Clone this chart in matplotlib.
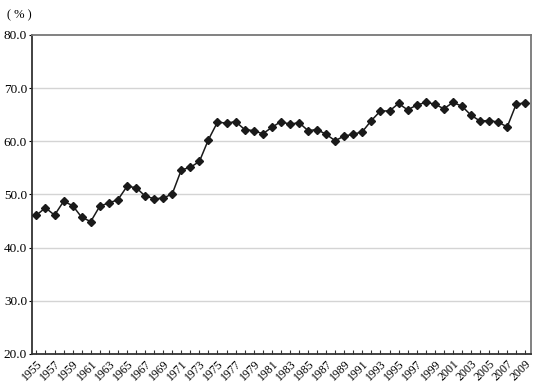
import numpy as np
import matplotlib
matplotlib.use("Agg")
import matplotlib.pyplot as plt

years = list(range(1955, 2010))
rate = [46.1, 47.5, 46.1, 48.7, 47.9, 45.7, 44.9, 47.8, 48.4, 49.0,
        51.5, 51.3, 49.7, 49.2, 49.3, 50.1, 54.6, 55.1, 56.2, 60.3,
        63.6, 63.4, 63.7, 62.2, 62.0, 61.4, 62.6, 63.7, 63.2, 63.5,
        62.0, 62.2, 61.3, 60.1, 61.0, 61.3, 61.8, 63.9, 65.7, 65.7,
        67.1, 65.9, 66.8, 67.3, 67.0, 66.1, 67.3, 66.6, 64.9, 63.8,
        63.9, 63.6, 62.7, 67.0, 67.2]
label_years = list(range(1955, 2010, 2))
y_ticks = [20, 30, 40, 50, 60, 70, 80]

plt.rcParams['font.family'] = ['Liberation Serif', 'DejaVu Serif']

fig = plt.figure(figsize=(5.5, 3.92), dpi=100)
ax = fig.add_axes([0.058, 0.097, 0.907, 0.814])

for v in y_ticks[1:-1]:
    ax.axhline(v, color='#d4d4d4', lw=1.0, zorder=1)

ax.plot(years, rate, color='#1a1a1a', lw=1.1, marker='D', markersize=3.6,
        zorder=3)

ax.set_xlim(1954.5, 2009.6)
ax.set_ylim(20, 80)
ax.set_yticks(y_ticks)
ax.set_yticklabels([f"{v:.1f}" for v in y_ticks], fontsize=9.5)
ax.set_xticks(years, minor=True)
ax.set_xticks(label_years)
ax.set_xticklabels([str(y) for y in label_years], rotation=45, fontsize=8.5,
                   ha='right', rotation_mode='anchor')
ax.tick_params(axis='x', which='both', direction='in', length=3, width=0.8,
               color='#333333', pad=3)
ax.tick_params(axis='y', direction='out', length=2, width=0.8, pad=1.5)

ax.spines['left'].set_color('#333333')
ax.spines['bottom'].set_color('#333333')
ax.spines['left'].set_linewidth(1.3)
ax.spines['bottom'].set_linewidth(1.3)
ax.spines['top'].set_color('#777777')
ax.spines['right'].set_color('#777777')
ax.spines['top'].set_linewidth(1.3)
ax.spines['right'].set_linewidth(1.3)

fig.text(0.012, 0.962, "( % )", fontsize=9, ha='left', va='center')

fig.savefig("out.png", dpi=100)
